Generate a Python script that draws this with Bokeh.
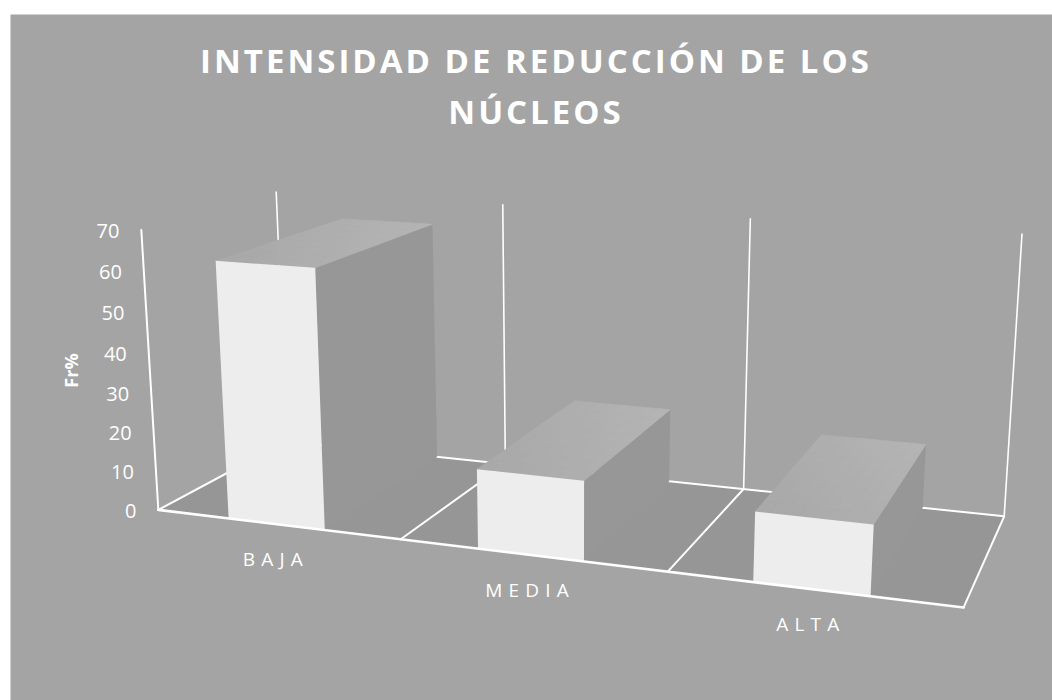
import numpy as np
from bokeh.core.properties import value
from bokeh.embed import file_html
from bokeh.layouts import column
from bokeh.models import Range1d
from bokeh.plotting import figure
from bokeh.resources import INLINE

# Chart content
title_lines = ["INTENSIDAD DE REDUCCIÓN DE LOS", "NÚCLEOS"]
categories = ["BAJA", "MEDIA", "ALTA"]
frequencies = [63.8, 19.3, 16.4]
ticks = [0, 10, 20, 30, 40, 50, 60, 70]
axis_title = "Fr%"

FONT = "Open Sans"
PANEL = "#a4a4a4"
FLOOR = "#969696"
FRONT = "#ededed"
SIDE = "#979797"
INK = "#ffffff"
TITLE_TRACKING = 3.0
LABEL_TRACKING = 6.2

# Camera: least-squares perspective matrix mapping (slot, depth, value) to page pixels.
anchors = [
    (0, 0, 0, 158, 509), (0, 0, 70, 140, 230),
    (0, 1, 0, 284, 441), (0, 1, 70, 277, 192),
    (1, 1, 0, 507, 463), (1, 1, 70, 502, 204),
    (2, 1, 0, 743, 489), (2, 1, 70, 749, 218),
    (3, 1, 0, 1003, 516), (3, 1, 70, 1022, 233),
    (1, 0, 0, 401, 538), (2, 0, 0, 667, 571), (3, 0, 0, 963, 608),
]
rows, rhs = [], []
for u, w, h, sx, sy in anchors:
    rows.append([u, w, h, 1, 0, 0, 0, 0, -sx * u, -sx * w, -sx * h])
    rows.append([0, 0, 0, 0, u, w, h, 1, -sy * u, -sy * w, -sy * h])
    rhs += [sx, sy]
sol = np.linalg.lstsq(np.array(rows, float), np.array(rhs, float), rcond=None)[0]
CAM = np.append(sol, 1.0).reshape(3, 4)


def project(u, w, h):
    x, y, d = CAM @ np.array([u, w, h, 1.0])
    return x / d, y / d


def face(corners):
    pts = [project(*c) for c in corners]
    return [q[0] for q in pts], [q[1] for q in pts]


def layer(**extra):
    """A full-page figure in pixel coordinates with y growing downward."""
    f = figure(width=1052, height=700, x_range=Range1d(0, 1052), y_range=Range1d(700, 0),
               output_backend="svg", toolbar_location=None, min_border=0,
               outline_line_color=None, **extra)
    f.axis.visible = False
    f.grid.visible = False
    return f


def segment(a, b, width):
    pa, pb = project(*a), project(*b)
    p.line([pa[0], pb[0]], [pa[1], pb[1]], line_color=INK, line_width=width, line_cap="round")


def tracked_x(center, text, tracking):
    # Text is anchored from its untracked width, so pull it back by the added spacing.
    return center - (len(text) - 1) * tracking / 2


p = layer(background_fill_color="white", border_fill_color="white")
p.quad(left=10, right=1052, top=14, bottom=700, fill_color=PANEL, line_color=None)

# Floor and frame
n = len(categories)
fx, fy = face([(0, 0, 0), (n, 0, 0), (n, 1, 0), (0, 1, 0)])
p.patch(fx, fy, fill_color=FLOOR, line_color=None)
for i in range(n + 1):
    segment((i, 1, 0), (i, 1, 70), 1.6)
    if 0 < i < n:
        segment((i, 0, 0), (i, 1, 0), 2)
segment((0, 0, 0), (0, 0, 70), 2)
segment((0, 0, 0), (0, 1, 0), 2)
segment((n, 0, 0), (n, 1, 0), 2)
segment((0, 1, 0), (n, 1, 0), 2)

# Bars: side, shaded top, front
BAR_LO, BAR_HI = 0.30, 0.697
CELLS = 8
for i, v in enumerate(frequencies):
    a, b = i + BAR_LO, i + BAR_HI
    sx, sy = face([(b, 0, 0), (b, 1, 0), (b, 1, v), (b, 0, v)])
    p.patch(sx, sy, fill_color=SIDE, line_color=None)
    xs, ys, shades = [], [], []
    for m in range(CELLS):
        for k in range(CELLS):
            u0, u1 = a + (b - a) * m / CELLS, a + (b - a) * (m + 1) / CELLS
            w0, w1 = k / CELLS, (k + 1) / CELLS
            cx, cy = face([(u0, w0, v), (u1, w0, v), (u1, w1, v), (u0, w1, v)])
            xs.append(cx)
            ys.append(cy)
            level = int(round(0xa8 + 0x0c * ((m + k + 1) / (2 * CELLS - 1))))
            shades.append(f"#{level:02x}{level:02x}{level:02x}")
    p.patches(xs, ys, fill_color=shades, line_color=shades, line_width=0.6)
    ax, ay = face([(a, 0, 0), (b, 0, 0), (b, 0, v), (a, 0, v)])
    p.patch(ax, ay, fill_color=FRONT, line_color=None)

segment((0, 0, 0), (n, 0, 0), 2.6)

# Value axis labels follow the front-left edge
for t in ticks:
    x, y = project(0, 0, t)
    p.text([x - 22], [y + 1], text=[str(t)], text_font=value(FONT), text_font_size="20px",
           text_color=INK, text_align="right", text_baseline="middle")
p.text([70], [370], text=[axis_title], text_font=value(FONT), text_font_size="18px",
       text_font_style="bold", text_color=INK, text_align="center", text_baseline="middle",
       angle=np.pi / 2)

# Transparent layers carry the tracked-out text
overlay_opts = dict(background_fill_color=None, border_fill_color=None)

labels = layer(**overlay_opts)
labels.styles = {"letter-spacing": f"{LABEL_TRACKING}px"}
labels.margin = (-700, 0, 0, 0)
for i, c in enumerate(categories):
    x, y = project(i + (BAR_LO + BAR_HI) / 2, 0, 0)
    labels.text([tracked_x(x - 3.5, c, LABEL_TRACKING)], [y + 35], text=[c], text_font=value(FONT),
                text_font_size="19px", text_color=INK, text_align="center", text_baseline="middle")

heading = layer(**overlay_opts)
heading.styles = {"letter-spacing": f"{TITLE_TRACKING}px"}
heading.margin = (-700, 0, 0, 0)
for y, line in zip([60, 111], title_lines):
    heading.text([tracked_x(534, line, TITLE_TRACKING)], [y], text=[line], text_font=value(FONT),
                 text_font_size="33px", text_font_style="bold", text_color=INK,
                 text_align="center", text_baseline="middle")

page = column(p, labels, heading, margin=0)
open("out.html", "w").write(file_html(page, INLINE))
